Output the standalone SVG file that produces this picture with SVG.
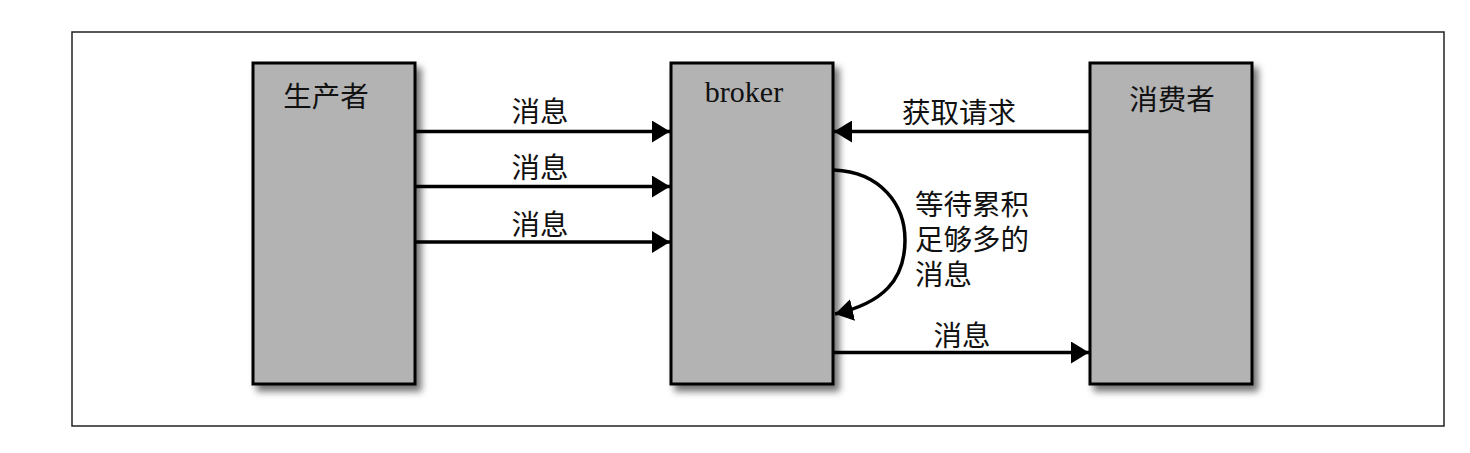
<svg xmlns="http://www.w3.org/2000/svg" width="1470" height="453" viewBox="0 0 1470 453">
<style>
.box{fill:#b3b3b3;stroke:#000;stroke-width:3}
.cn{font-family:"Noto Sans CJK SC","Noto Sans",sans-serif;font-size:28.5px;fill:#111}
.en{font-family:"Liberation Serif",serif;font-size:30px;fill:#111}
.ln{fill:none;stroke:#000;stroke-width:3.5}
</style>
<defs>
<filter id="sh" x="-20%" y="-10%" width="150%" height="130%">
<feDropShadow dx="5" dy="6" stdDeviation="3.5" flood-color="#000" flood-opacity="0.55"/>
</filter>
<marker id="ah" viewBox="0 0 18 22" refX="18" refY="11" markerWidth="18" markerHeight="22" markerUnits="userSpaceOnUse" orient="auto">
<path d="M0,0 L18,11 L0,22 Z" fill="#000"/>
</marker>
</defs>
<rect x="0" y="0" width="1470" height="453" fill="#fff"/>
<rect x="72" y="32" width="1372" height="394" fill="none" stroke="#222" stroke-width="1.5"/>
<g id="producer">
<rect class="box" x="253" y="63" width="162" height="321" filter="url(#sh)"/>
<text class="cn" x="326" y="107" text-anchor="middle">生产者</text>
</g>
<g id="broker">
<rect class="box" x="671" y="63" width="162" height="321" filter="url(#sh)"/>
<text class="en" x="744" y="102" text-anchor="middle">broker</text>
</g>
<g id="consumer">
<rect class="box" x="1090" y="63" width="162" height="321" filter="url(#sh)"/>
<text class="cn" x="1172" y="110" text-anchor="middle">消费者</text>
</g>
<g id="connectors">
<line class="ln" x1="416" y1="131.5" x2="670" y2="131.5" marker-end="url(#ah)"/>
<line class="ln" x1="416" y1="186.5" x2="670" y2="186.5" marker-end="url(#ah)"/>
<line class="ln" x1="416" y1="242" x2="670" y2="242" marker-end="url(#ah)"/>
<line class="ln" x1="1089" y1="131.5" x2="834" y2="131.5" marker-end="url(#ah)"/>
<path class="ln" d="M834,170 C881,172 905,205 905,240 C905,280 883,303 835,314" marker-end="url(#ah)"/>
<line class="ln" x1="834" y1="352.5" x2="1089" y2="352.5" marker-end="url(#ah)"/>
<text class="cn" x="540" y="122" text-anchor="middle">消息</text>
<text class="cn" x="540" y="178" text-anchor="middle">消息</text>
<text class="cn" x="540" y="235" text-anchor="middle">消息</text>
<text class="cn" x="959" y="123" text-anchor="middle">获取请求</text>
<text class="cn" x="915" y="215">等待累积<tspan x="915" dy="35">足够多的</tspan><tspan x="915" dy="35">消息</tspan></text>
<text class="cn" x="962" y="346" text-anchor="middle">消息</text>
</g>
</svg>
